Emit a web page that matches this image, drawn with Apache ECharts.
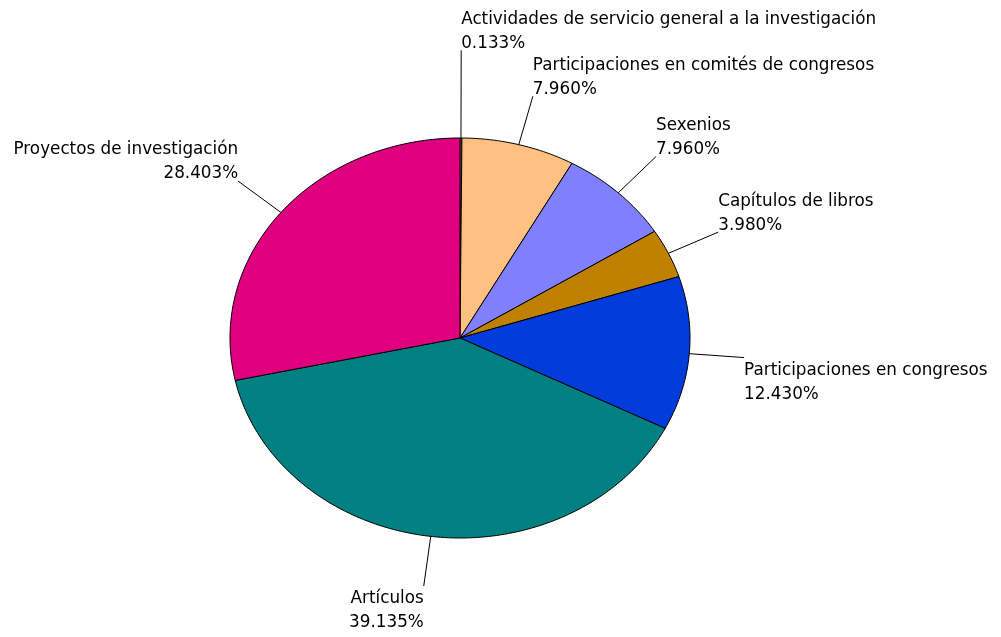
<!DOCTYPE html>
<html>
<head>
<meta charset="utf-8">
<script src="https://cdn.jsdelivr.net/npm/echarts@6/dist/echarts.min.js"></script>
<style>
  html, body { margin: 0; padding: 0; background: #fff; }
  #chart { width: 1001px; height: 637px; }
</style>
</head>
<body>
<div id="chart"></div>
<script>
// -- data --
const categories = [
  'Actividades de servicio general a la investigación',
  'Participaciones en comités de congresos',
  'Sexenios',
  'Capítulos de libros',
  'Participaciones en congresos',
  'Artículos',
  'Proyectos de investigación'
];
const shares = [0.133, 7.960, 7.960, 3.980, 12.430, 39.135, 28.403];
const colors = ['#ff8080', '#ffc080', '#8080ff', '#c08000', '#003cdc', '#008080', '#e0007f'];

// -- geometry (flattened pie, clockwise from 12 o'clock) --
const CX = 460, CY = 338, RX = 230, RY = 200;
const LX = 285, LY = 250;
const FONT = '16.8px "DejaVu Sans"';
const LINE_H = 24;

const total = shares.reduce((s, v) => s + v, 0);
const ctx = document.createElement('canvas').getContext('2d');
ctx.font = FONT;

function pt(a, rx, ry) {
  return [CX + rx * Math.sin(a), CY - ry * Math.cos(a)];
}

let acc = 0;
const slices = shares.map((v, i) => {
  const a0 = acc / total * Math.PI * 2;
  acc += v;
  const a1 = acc / total * Math.PI * 2;
  const mid = (a0 + a1) / 2;
  const pts = [[CX, CY]];
  const steps = Math.max(2, Math.ceil((a1 - a0) / (Math.PI / 180)));
  for (let k = 0; k <= steps; k++) pts.push(pt(a0 + (a1 - a0) * k / steps, RX, RY));

  const text = categories[i] + '\n' + v.toFixed(3) + '%';
  const w = Math.max(...text.split('\n').map(s => ctx.measureText(s).width));
  const end = pt(mid, LX, LY);
  const right = Math.sin(mid) >= 0;
  const upper = Math.cos(mid) > 0;
  const h = LINE_H * 2;
  const top = upper ? end[1] + 5 - h : end[1] + 1;
  return {
    pts, text, right, upper, edge: pt(mid, RX, RY), end,
    box: { x: right ? end[0] : end[0] - w, y: top, w, h }
  };
});

// -- push overlapping labels upward --
function overlap(a, b) {
  return a.x < b.x + b.w && b.x < a.x + a.w && a.y < b.y + b.h && b.y < a.y + a.h;
}
for (let i = slices.length - 2; i >= 0; i--) {
  const s = slices[i];
  if (!s.upper) continue;
  for (let j = i + 1; j < slices.length; j++) {
    if (overlap(s.box, slices[j].box)) {
      s.box.y = slices[j].box.y - s.box.h + 2;
      s.end = [s.end[0], s.box.y + s.box.h - 5];
    }
  }
}

const myChart = echarts.init(document.getElementById('chart'));
myChart.setOption({
  animation: false,
  series: [{
    type: 'custom',
    coordinateSystem: 'none',
    data: shares,
    renderItem: function (params) {
      const s = slices[params.dataIndex];
      return {
        type: 'polygon',
        shape: { points: s.pts },
        style: { fill: colors[params.dataIndex], stroke: '#000', lineWidth: 1 }
      };
    }
  }, {
    type: 'custom',
    coordinateSystem: 'none',
    data: shares,
    z: 3,
    renderItem: function (params) {
      const s = slices[params.dataIndex];
      return {
        type: 'group',
        children: [{
          type: 'polyline',
          shape: { points: [s.edge, s.end] },
          style: { stroke: '#000', lineWidth: 1, fill: null }
        }, {
          type: 'text',
          style: {
            text: s.text,
            x: s.right ? s.box.x : s.box.x + s.box.w,
            y: s.box.y,
            align: s.right ? 'left' : 'right',
            verticalAlign: 'top',
            font: FONT,
            lineHeight: LINE_H,
            fill: '#000'
          }
        }]
      };
    }
  }]
});
</script>
</body>
</html>
